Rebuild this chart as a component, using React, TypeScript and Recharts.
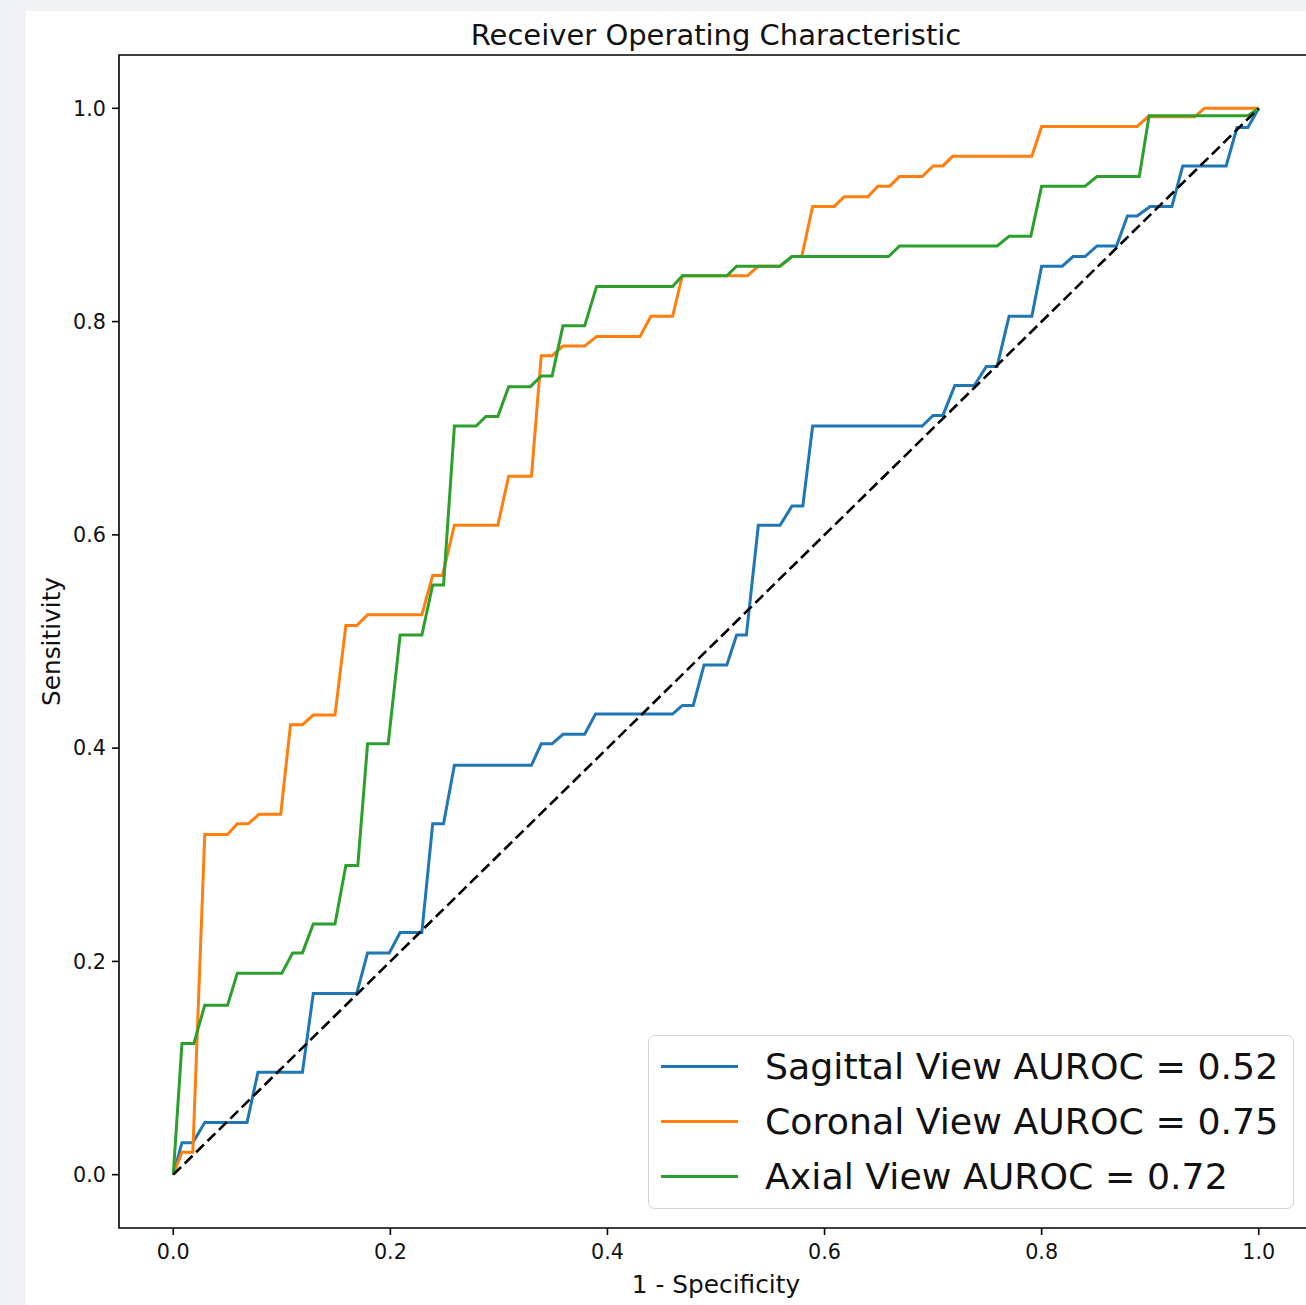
import React from "react";
import {
  Label,
  Legend,
  Line,
  LineChart,
  ReferenceArea,
  XAxis,
  YAxis,
} from "recharts";

// ROC points (fpr = 1 - specificity, tpr = sensitivity)
const sagittalFpr = [
  0, 0.008, 0.018, 0.029, 0.068, 0.078, 0.119, 0.129, 0.169, 0.179, 0.199, 0.209, 0.229,
  0.239, 0.249, 0.259, 0.33, 0.339, 0.349, 0.359, 0.379, 0.389, 0.46, 0.469, 0.479, 0.489,
  0.51, 0.519, 0.528, 0.539, 0.559, 0.57, 0.58, 0.589, 0.69, 0.7, 0.709, 0.72, 0.738, 0.749,
  0.759, 0.77, 0.791, 0.8, 0.819, 0.829, 0.84, 0.851, 0.869, 0.879, 0.888, 0.9, 0.92, 0.93,
  0.97, 0.98, 0.99, 1.0,
];
const sagittalTpr = [
  0, 0.03, 0.03, 0.049, 0.049, 0.096, 0.096, 0.17, 0.17, 0.208, 0.208, 0.227, 0.227, 0.329,
  0.329, 0.384, 0.384, 0.404, 0.404, 0.413, 0.413, 0.432, 0.432, 0.44, 0.44, 0.478, 0.478,
  0.506, 0.506, 0.609, 0.609, 0.627, 0.627, 0.702, 0.702, 0.712, 0.712, 0.74, 0.74, 0.758,
  0.758, 0.805, 0.805, 0.852, 0.852, 0.861, 0.861, 0.871, 0.871, 0.899, 0.899, 0.908, 0.908,
  0.946, 0.946, 0.982, 0.982, 1.0,
];

const coronalFpr = [
  0, 0.008, 0.018, 0.029, 0.05, 0.059, 0.069, 0.079, 0.099, 0.108, 0.119, 0.129, 0.149,
  0.159, 0.169, 0.179, 0.229, 0.239, 0.248, 0.259, 0.299, 0.309, 0.33, 0.339, 0.349, 0.359,
  0.379, 0.39, 0.43, 0.44, 0.46, 0.469, 0.529, 0.539, 0.559, 0.57, 0.579, 0.589, 0.609,
  0.618, 0.64, 0.649, 0.66, 0.669, 0.69, 0.7, 0.709, 0.718, 0.791, 0.8, 0.888, 0.898, 0.941,
  0.95, 1.0,
];
const coronalTpr = [
  0, 0.021, 0.021, 0.319, 0.319, 0.329, 0.329, 0.338, 0.338, 0.422, 0.422, 0.431, 0.431,
  0.515, 0.515, 0.525, 0.525, 0.562, 0.562, 0.609, 0.609, 0.655, 0.655, 0.768, 0.768, 0.777,
  0.777, 0.786, 0.786, 0.805, 0.805, 0.843, 0.843, 0.852, 0.852, 0.861, 0.861, 0.908, 0.908,
  0.917, 0.917, 0.927, 0.927, 0.936, 0.936, 0.946, 0.946, 0.955, 0.955, 0.983, 0.983, 0.992,
  0.992, 1.0, 1.0,
];

const axialFpr = [
  0, 0.008, 0.019, 0.029, 0.05, 0.059, 0.1, 0.11, 0.119, 0.129, 0.149, 0.159, 0.17, 0.179,
  0.198, 0.209, 0.229, 0.239, 0.249, 0.259, 0.279, 0.288, 0.299, 0.309, 0.329, 0.339, 0.349,
  0.359, 0.379, 0.39, 0.46, 0.469, 0.51, 0.519, 0.559, 0.57, 0.659, 0.669, 0.759, 0.77, 0.79,
  0.8, 0.84, 0.851, 0.89, 0.899, 0.99, 1.0,
];
const axialTpr = [
  0, 0.123, 0.123, 0.159, 0.159, 0.189, 0.189, 0.208, 0.208, 0.235, 0.235, 0.29, 0.29, 0.404,
  0.404, 0.506, 0.506, 0.553, 0.553, 0.702, 0.702, 0.711, 0.711, 0.739, 0.739, 0.749, 0.749,
  0.796, 0.796, 0.833, 0.833, 0.843, 0.843, 0.852, 0.852, 0.861, 0.861, 0.871, 0.871, 0.88,
  0.88, 0.927, 0.927, 0.936, 0.936, 0.993, 0.993, 1.0,
];

const chanceFpr = [0, 1];
const chanceTpr = [0, 1];

const ticks = [0, 0.2, 0.4, 0.6, 0.8, 1.0];

const series = [
  { name: "Sagittal View AUROC = 0.52", color: "#1f77b4", fpr: sagittalFpr, tpr: sagittalTpr },
  { name: "Coronal View AUROC = 0.75", color: "#ff7f0e", fpr: coronalFpr, tpr: coronalTpr },
  { name: "Axial View AUROC = 0.72", color: "#2ca02c", fpr: axialFpr, tpr: axialTpr },
];

const toPoints = (xs: number[], ys: number[]) => xs.map((x, i) => ({ x, y: ys[i] }));

const font = "'DejaVu Sans', sans-serif";
const tickStyle = { fontSize: 20.7, fill: "#111", fontFamily: font };

function RocLegend() {
  return (
    <div
      style={{
        width: 646,
        height: 174,
        boxSizing: "border-box",
        border: "1.5px solid #d4d4d4",
        borderRadius: 7,
        background: "rgba(255,255,255,0.8)",
        paddingTop: 3,
        fontFamily: font,
      }}
    >
      {series.map((s) => (
        <div key={s.name} style={{ height: 55, display: "flex", alignItems: "center" }}>
          <div style={{ marginLeft: 12, width: 77, height: 3, background: s.color }} />
          <span style={{ marginLeft: 27, fontSize: 36.3, color: "#111", whiteSpace: "nowrap" }}>
            {s.name}
          </span>
        </div>
      ))}
    </div>
  );
}

export default function App() {
  return (
    <div
      style={{
        position: "absolute",
        left: 0,
        top: 0,
        width: 1306,
        height: 1305,
        overflow: "hidden",
        background: "#f0f2f5",
      }}
    >
      <div style={{ position: "absolute", left: 26, top: 11, right: 0, bottom: 0, background: "#fff" }} />
      <div style={{ position: "absolute", left: 0, top: 0 }}>
        <LineChart width={1330} height={1305} margin={{ top: 55, right: 17, left: 59, bottom: 0 }}>
          <XAxis
            dataKey="x"
            type="number"
            domain={[-0.05, 1.05]}
            ticks={ticks}
            allowDataOverflow
            height={77}
            axisLine={false}
            tickSize={7}
            tickMargin={9}
            tickLine={{ stroke: "#000", strokeWidth: 1.6 }}
            tick={tickStyle}
            tickFormatter={(v) => Number(v).toFixed(1)}
          >
            <Label
              value="1 - Specificity"
              position="insideBottom"
              offset={12}
              style={{ fontSize: 24.8, fill: "#111", fontFamily: font }}
            />
          </XAxis>
          <YAxis
            dataKey="y"
            type="number"
            domain={[-0.05, 1.05]}
            ticks={ticks}
            allowDataOverflow
            width={60}
            axisLine={false}
            tickSize={7}
            tickMargin={6}
            tickLine={{ stroke: "#000", strokeWidth: 1.6 }}
            tick={tickStyle}
            tickFormatter={(v) => Number(v).toFixed(1)}
          >
            <Label
              value="Sensitivity"
              angle={-90}
              position="insideLeft"
              offset={-8}
              style={{ fontSize: 24.8, fill: "#111", fontFamily: font, textAnchor: "middle" }}
            />
          </YAxis>
          {series.map((s) => (
            <Line
              key={s.name}
              data={toPoints(s.fpr, s.tpr)}
              dataKey="y"
              name={s.name}
              type="linear"
              stroke={s.color}
              strokeWidth={3}
              dot={false}
              activeDot={false}
              isAnimationActive={false}
            />
          ))}
          <Line
            data={toPoints(chanceFpr, chanceTpr)}
            dataKey="y"
            type="linear"
            stroke="#000"
            strokeWidth={2.6}
            strokeDasharray="11 5"
            dot={false}
            activeDot={false}
            legendType="none"
            isAnimationActive={false}
          />
          <ReferenceArea
            x1={-0.05}
            x2={1.05}
            y1={-0.05}
            y2={1.05}
            fill="none"
            stroke="#000"
            strokeWidth={1.6}
            ifOverflow="visible"
          >
            <Label
              value="Receiver Operating Characteristic"
              position="top"
              offset={10}
              style={{ fontSize: 29, fill: "#111", fontFamily: font }}
            />
          </ReferenceArea>
          <Legend
            layout="vertical"
            align="center"
            verticalAlign="middle"
            wrapperStyle={{ left: 648, top: 1035, width: 646, height: 174 }}
            content={() => <RocLegend />}
          />
        </LineChart>
      </div>
    </div>
  );
}
